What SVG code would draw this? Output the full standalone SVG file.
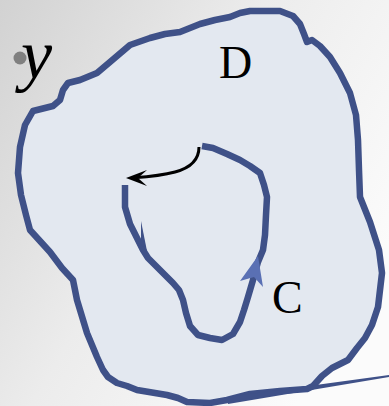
<svg xmlns="http://www.w3.org/2000/svg" width="389" height="406" viewBox="0 0 389 406">
<defs>
<linearGradient id="bg" x1="0" y1="0" x2="1" y2="0.6">
<stop offset="0" stop-color="#d2d2d2"/>
<stop offset="0.5" stop-color="#ececec"/>
<stop offset="1" stop-color="#fbfbfb"/>
</linearGradient>
<style>
.edge{fill:none;stroke:#3f5188;stroke-width:6.5;stroke-linejoin:round;stroke-linecap:butt}
.lbl{font-family:"Liberation Serif","DejaVu Serif",serif;fill:#000}
</style>
</defs>
<rect width="389" height="406" fill="url(#bg)"/>
<g id="regionD">
<path class="edge" style="fill:#e3e8f0" d="M180,32 L200,24 L215,20 L230,17 L240,13 L250,11 L280,11 L293,16 L300,24 L304,34 L307,42 L312,40 L320,46 L330,57 L340,73 L350,93 L356,115 L358,140 L359,170 L360,197 L370,222 L379,250 L382,273 L378,307 L372,325 L365,338 L357,348 L348,360 L332,368 L322,376 L313,386 L307,389 L280,391 L250,394 L227,400 L210,403 L187,402 L178,398 L167,395 L137,390 L127,386 L117,383 L108,377 L103,370 L97,357 L87,333 L77,300 L73,280 L62,268 L50,252 L40,241 L30,230 L26,215 L21,195 L18,173 L20,147 L25,125 L33,111 L53,106 L60,100 L63,90 L68,83 L80,80 L97,73 L110,62 L130,45 L150,38 L165,34 Z"/>
<polygon points="228,397 389,375 389,377 228,404" fill="#3f5188"/>
<text class="lbl" x="219" y="78" font-size="46">D</text>
</g>
<g id="curveC">
<path class="edge" d="M125,185 L125,207 L130,224 L137,238 L143,250 L148,258 L153,263 L160,270 L167,277 L173,283 L179,290 L183,300 L186,313 L190,326 L198,335 L210,338 L222,340 L233,334 L240,322 L244,310 L248,297 L253,280 L258,262 L263,250 L265,235 L266,215 L267,197 L264,185 L260,173 L250,166 L240,160 L227,154 L213,148 L202,146"/>
<polygon points="141,221 147,251 141,244" fill="#3f5188"/>
<polygon points="258,256 263,287 254,277 240,281" fill="#5a70b4"/>
<text class="lbl" x="272" y="313" font-size="46">C</text>
</g>
<g id="connectors">
<path d="M199,147 C199,160 190,168 175,172 C160,176 145,177 132,178" fill="none" stroke="#000" stroke-width="3"/>
<polygon points="126,178 147,170 138,178 147,186" fill="#000"/>
</g>
<g id="axis">
<circle cx="20" cy="58" r="6.5" fill="#808080"/>
<text class="lbl" x="21" y="78" font-size="70" font-style="italic">y</text>
</g>
</svg>
